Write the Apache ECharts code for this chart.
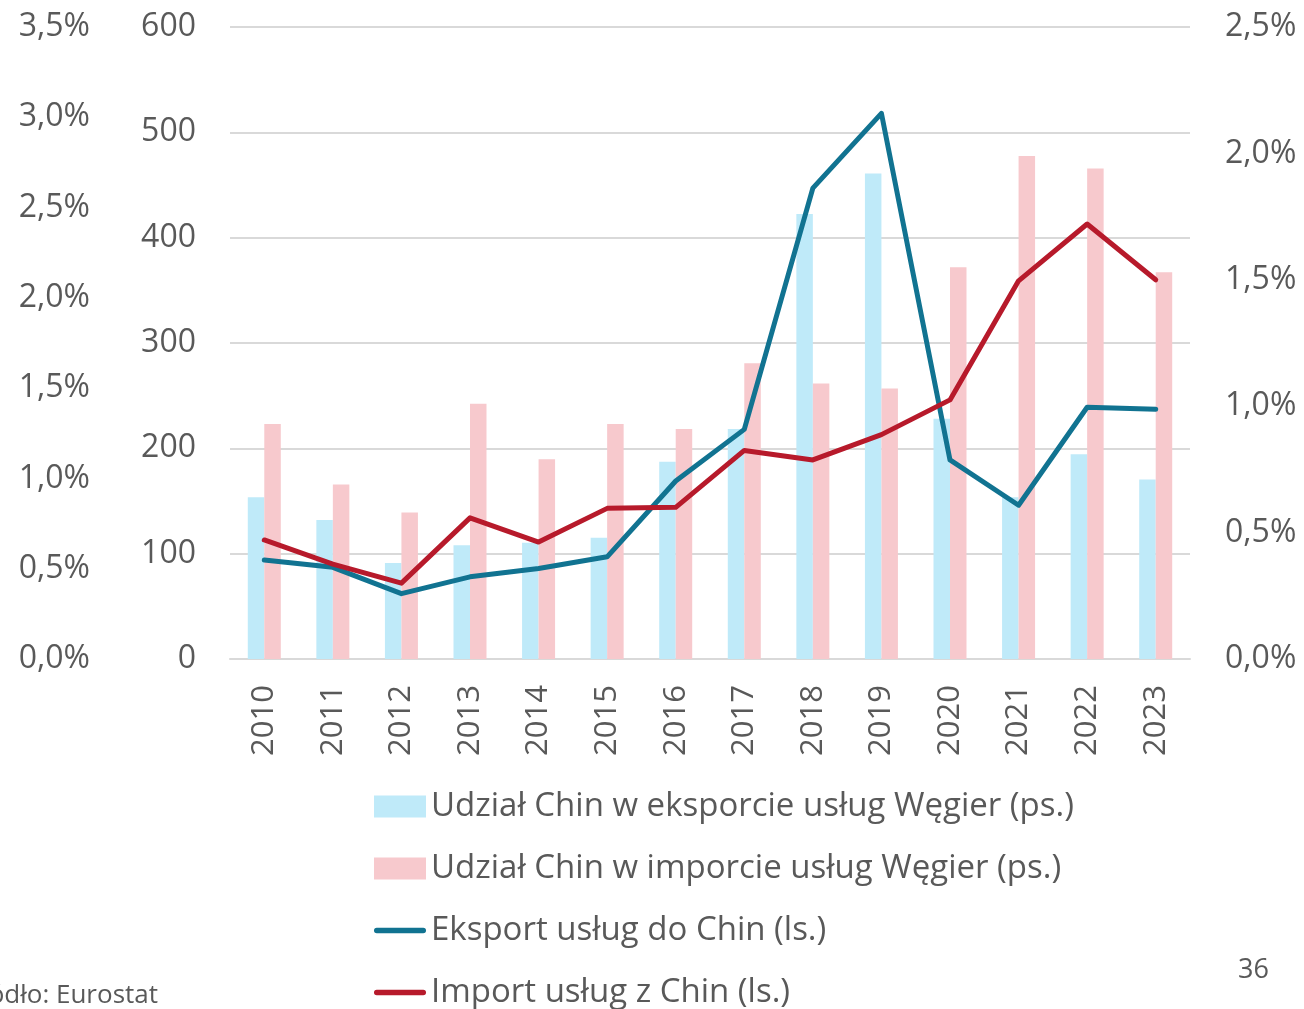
<!DOCTYPE html>
<html>
<head>
<meta charset="utf-8">
<script src="https://cdn.jsdelivr.net/npm/echarts@6/dist/echarts.min.js"></script>
<style>
  html, body { margin: 0; padding: 0; background: #fff; }
  #chart { width: 1304px; height: 1009px; }
</style>
</head>
<body>
<div id="chart"></div>
<script>
// Lata
const years = ['2010', '2011', '2012', '2013', '2014', '2015', '2016',
               '2017', '2018', '2019', '2020', '2021', '2022', '2023'];

// Udział Chin w eksporcie / imporcie usług Węgier (%), prawa skala
const shareExport = [0.64, 0.55, 0.38, 0.45, 0.46, 0.48, 0.78, 0.91, 1.76, 1.92, 0.95, 0.64, 0.81, 0.71];
const shareImport = [0.93, 0.69, 0.58, 1.01, 0.79, 0.93, 0.91, 1.17, 1.09, 1.07, 1.55, 1.99, 1.94, 1.53];

// Eksport / import usług (lewa skala)
const exportChina = [94, 87, 62, 78, 86, 97, 169, 218, 447, 518, 189, 146, 239, 237];
const importChina = [113, 90, 72, 134, 111, 143, 144, 198, 189, 213, 246, 359, 413, 360];

const seriesNames = [
  'Udział Chin w eksporcie usług Węgier (ps.)',
  'Udział Chin w imporcie usług Węgier (ps.)',
  'Eksport usług do Chin (ls.)',
  'Import usług z Chin (ls.)'
];

const FONT = '"Open Sans", sans-serif';
const TXT = '#595959';
const TEAL = '#117391';
const RED = '#b71a2b';
const pct = v => v.toFixed(1).replace('.', ',') + '%';

// Legend icon for line series: a thick rounded stroke, padded to the full 52x22 icon box
const lineIcon = 'path://M0,0L0,0M0,22L0,22M2.75,8.25L49.25,8.25A2.75,2.75,0,0,1,49.25,13.75L2.75,13.75A2.75,2.75,0,0,1,2.75,8.25Z';

const chart = echarts.init(document.getElementById('chart'), null, { renderer: 'canvas' });

chart.setOption({
  animation: false,
  textStyle: { fontFamily: FONT, color: TXT },
  grid: { left: 230, right: 114, top: 27, bottom: 350 },
  xAxis: {
    type: 'category',
    data: years,
    axisTick: { show: false },
    axisLine: { lineStyle: { color: '#d9d9d9', width: 2 } },
    axisLabel: { rotate: 90, margin: 26, fontSize: 31, color: TXT, fontFamily: FONT }
  },
  yAxis: [
    {
      type: 'value', min: 0, max: 600, interval: 100, position: 'left',
      axisLine: { show: false }, axisTick: { show: false },
      splitLine: { lineStyle: { color: '#d9d9d9', width: 2 } },
      axisLabel: { margin: 34, fontSize: 32, color: TXT, fontFamily: FONT, padding: [4, 0, 0, 0] }
    },
    {
      type: 'value', min: 0, max: 2.5, interval: 0.5, position: 'right',
      axisLine: { show: false }, axisTick: { show: false }, splitLine: { show: false },
      axisLabel: { margin: 35, fontSize: 32, color: TXT, fontFamily: FONT, formatter: pct, padding: [4, 0, 0, 0] }
    },
    {
      type: 'value', min: 0, max: 3.5, interval: 0.5, position: 'left',
      axisLine: { show: false }, axisTick: { show: false }, splitLine: { show: false },
      axisLabel: { margin: 140, fontSize: 32, color: TXT, fontFamily: FONT, formatter: pct, padding: [4, 0, 0, 0] }
    }
  ],
  legend: {
    orient: 'vertical',
    left: 374,
    top: 790,
    height: 300,
    padding: 0,
    itemWidth: 52,
    itemHeight: 22,
    itemGap: 29,
    textStyle: { fontSize: 33, color: TXT, fontFamily: FONT },
    data: [
      { name: seriesNames[0], icon: 'rect' },
      { name: seriesNames[1], icon: 'rect' },
      { name: seriesNames[2], icon: lineIcon },
      { name: seriesNames[3], icon: lineIcon }
    ]
  },
  series: [
    {
      name: seriesNames[0], type: 'bar', yAxisIndex: 1, data: shareExport,
      barWidth: 16.5, barGap: '0%',
      itemStyle: { color: '#bfeaf9' }
    },
    {
      name: seriesNames[1], type: 'bar', yAxisIndex: 1, data: shareImport,
      barWidth: 16.5, barGap: '0%',
      itemStyle: { color: '#f7c9cd' }
    },
    {
      name: seriesNames[2], type: 'line', yAxisIndex: 0, data: exportChina,
      symbol: 'none', z: 5,
      lineStyle: { color: TEAL, width: 5, cap: 'round', join: 'round' },
      itemStyle: { color: TEAL }
    },
    {
      name: seriesNames[3], type: 'line', yAxisIndex: 0, data: importChina,
      symbol: 'none', z: 6,
      lineStyle: { color: RED, width: 5, cap: 'round', join: 'round' },
      itemStyle: { color: RED }
    }
  ],
  graphic: [
    {
      type: 'text', right: 1304 - 158, bottom: 0,
      style: { text: 'Źródło: Eurostat', font: '26px ' + FONT, fill: TXT, textAlign: 'right' }
    },
    {
      type: 'text', left: 1238, top: 957,
      style: { text: '36', font: '27px ' + FONT, fill: TXT }
    }
  ]
});
</script>
</body>
</html>
